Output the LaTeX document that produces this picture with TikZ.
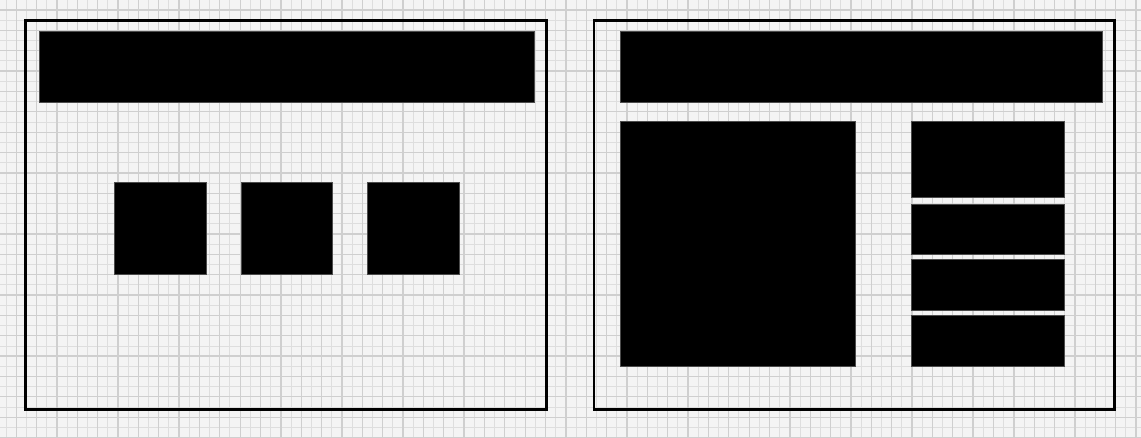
\documentclass[tikz,border=0pt]{standalone}
\definecolor{bg}{HTML}{F4F4F4}
\definecolor{minorgrid}{HTML}{DEDEDE}
\definecolor{majorgrid}{HTML}{CFCFCF}
\tikzset{
  frame/.style={draw=black, line width=2.6pt},
  block/.style={fill=black, draw=black!70, line width=0.6pt},
}
\begin{document}
\begin{tikzpicture}[x=1pt,y=-1pt]
\useasboundingbox (0,0) rectangle (1141,437);
\fill[bg] (0,0) rectangle (1141,437);
% minor grid
\foreach \k in {0,...,112} {
  \pgfmathsetmacro{\xx}{6+10.18*\k}
  \draw[minorgrid, line width=1pt] (\xx,0) -- (\xx,437);
}
\foreach \k in {0,...,43} {
  \pgfmathsetmacro{\yy}{-0.1+10.18*\k}
  \draw[minorgrid, line width=1pt] (0,\yy) -- (1141,\yy);
}
% major grid
\foreach \k in {0,...,55} {
  \pgfmathsetmacro{\xx}{16.2+20.36*\k}
  \draw[majorgrid, line width=1.3pt] (\xx,0) -- (\xx,437);
}
\foreach \k in {0,...,21} {
  \pgfmathsetmacro{\yy}{10+20.36*\k}
  \draw[majorgrid, line width=1.3pt] (0,\yy) -- (1141,\yy);
}
% left frame
\draw[frame] (25.5,20.5) rectangle (546.7,409.2);
\fill[block] (39.3,31) rectangle (534.5,102.3);
\fill[block] (114.7,182.7) rectangle (206,274.3);
\fill[block] (241,182.7) rectangle (332.5,274.3);
\fill[block] (367.5,182.7) rectangle (459,274.3);
% right frame
\draw[frame] (593.8,20.5) rectangle (1114.7,409.2);
\fill[block] (620.3,31) rectangle (1102,102.3);
\fill[block] (620.7,121.7) rectangle (855,366);
\fill[block] (911.7,121.7) rectangle (1063.8,197.5);
\fill[block] (911.7,204) rectangle (1063.8,254);
\fill[block] (911.7,259.3) rectangle (1063.8,310.7);
\fill[block] (911.7,315.2) rectangle (1063.8,366);
\end{tikzpicture}
\end{document}
